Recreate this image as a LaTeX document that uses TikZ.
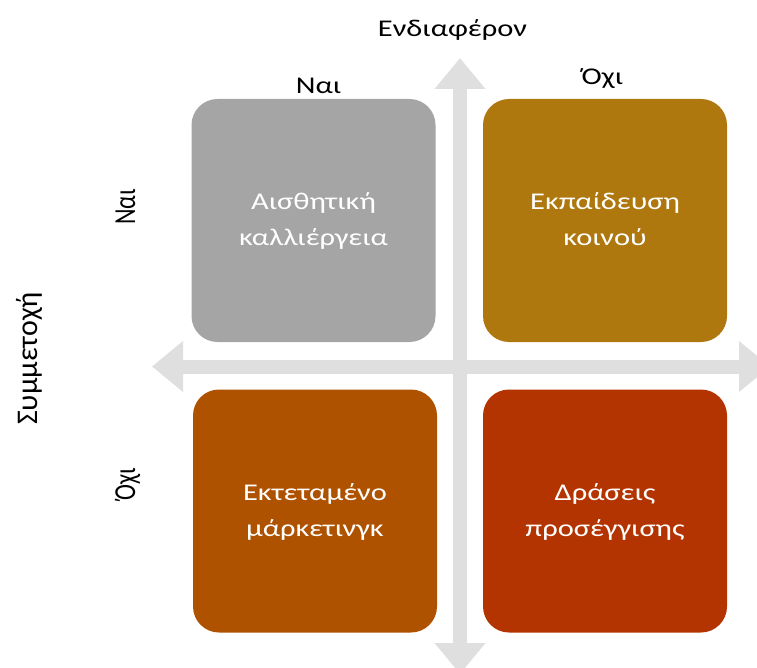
\documentclass[tikz,border=0pt]{standalone}
\usepackage{fontspec}
\usepackage{graphicx}
\setmainfont{Carlito}
\usetikzlibrary{arrows.meta}
\definecolor{axisgray}{HTML}{DFDFDF}
\definecolor{cgray}{HTML}{A5A5A5}
\definecolor{cgold}{HTML}{AE780E}
\definecolor{corange}{HTML}{AE5200}
\definecolor{cred}{HTML}{B33400}
\newcommand{\hwide}[1]{\scalebox{1.27}[1]{#1}}
\newcommand{\vwide}[1]{\scalebox{1}[1.27]{#1}}
\newcommand{\twolines}[2]{\hwide{\begin{tabular}{@{}c@{}}#1\\#2\end{tabular}}}
\tikzset{
  quad/.style={rounded corners=26pt, minimum width=244pt, minimum height=243pt,
    text=white, align=center, inner sep=0pt,
    font=\fontsize{24}{36}\selectfont},
  axisarrow/.style={draw=axisgray, line width=14pt,
    {Triangle[length=31pt,width=49pt]}-{Triangle[length=31pt,width=49pt]}},
  lbl/.style={font=\fontsize{24}{29}\selectfont, text=black, inner sep=0pt},
  biglbl/.style={font=\fontsize{30}{36}\selectfont, text=black, inner sep=0pt}
}
\begin{document}
\begin{tikzpicture}[x=1pt,y=-1pt]
\useasboundingbox (0,0) rectangle (757,668);
\clip (0,0) rectangle (757,668);
\coordinate (hl) at (152,366.5);
\coordinate (hr) at (770,366.5);
\coordinate (vt) at (460,58);
\coordinate (vb) at (460,674);
\draw[axisarrow] (hl) -- (hr);
\draw[axisarrow] (vt) -- (vb);
\node[quad, fill=cgray] (tl) at (313.5,220.5) {\twolines{Αισθητική}{καλλιέργεια}};
\node[quad, fill=cgold] (tr) at (605,220.5) {\twolines{Εκπαίδευση}{κοινού}};
\node[quad, fill=corange] (bl) at (315,511) {\twolines{Εκτεταμένο}{μάρκετινγκ}};
\node[quad, fill=cred] (br) at (605,511) {\twolines{Δράσεις}{προσέγγισης}};
\node[lbl, anchor=base] (interest) at (452.5,36.7) {\hwide{Ενδιαφέρον}};
\node[lbl, anchor=base] (yes1) at (318.5,94) {\hwide{Ναι}};
\node[lbl, anchor=base] (no1) at (602.5,85) {\hwide{Όχι}};
\node[biglbl, anchor=base, rotate=90] (part) at (37,358.5) {Συμμετοχή};
\node[lbl, anchor=base, rotate=90] (yes2) at (135,207) {\vwide{Ναι}};
\node[lbl, anchor=base, rotate=90] (no2) at (135,484) {\vwide{Όχι}};
\end{tikzpicture}
\end{document}
